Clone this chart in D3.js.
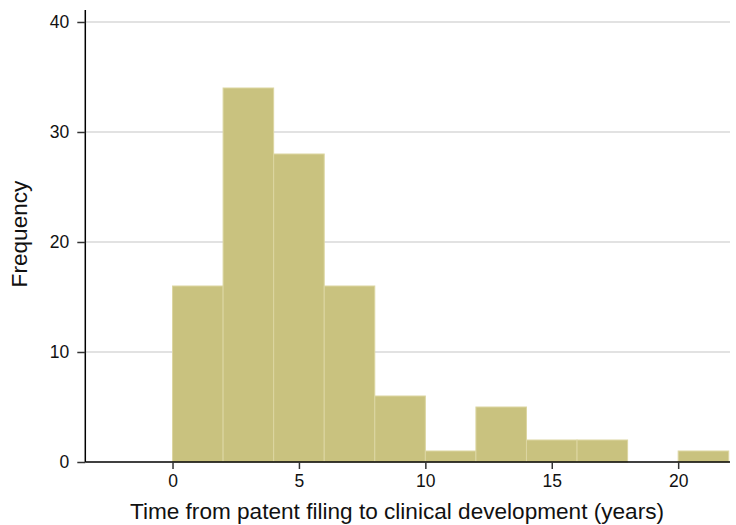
<!DOCTYPE html>
<html><head><meta charset="utf-8">
<script src="https://cdn.jsdelivr.net/npm/d3@7"></script>
<style>body{margin:0;background:#fff}svg{display:block}</style>
</head><body>
<svg id="c" width="736" height="525"></svg>
<script>
const binStarts = [0, 2, 4, 6, 8, 10, 12, 14, 16, 18, 20];
const binWidth = 2;
const frequencies = [16, 34, 28, 16, 6, 1, 5, 2, 2, 0, 1];
const xTicks = [0, 5, 10, 15, 20];
const yTicks = [0, 10, 20, 30, 40];
const xLabel = "Time from patent filing to clinical development (years)";
const yLabel = "Frequency";

(function () {
const svg = d3.select("#c");
const mLeft = 85.3, mRight = 730, mTop = 10, mBottom = 462;
const x = d3.scaleLinear().domain([-3.45, 22.05]).range([mLeft, mRight]);
const y = d3.scaleLinear().domain([0, 41.09]).range([mBottom, mTop]);
const font = "'Liberation Sans', Arial, Helvetica, sans-serif";

// grid
svg.append("g").selectAll("line").data(yTicks.filter(d => d > 0)).join("line")
  .attr("x1", mLeft).attr("x2", mRight)
  .attr("y1", d => y(d)).attr("y2", d => y(d))
  .attr("stroke", "#d8d8d8").attr("stroke-width", 1.5);

// bars
const data = binStarts.map((s, i) => ({s, v: frequencies[i]})).filter(d => d.v > 0);
svg.append("g").selectAll("rect").data(data).join("rect")
  .attr("x", d => x(d.s)).attr("width", d => x(d.s + binWidth) - x(d.s))
  .attr("y", d => y(d.v)).attr("height", d => y(0) - y(d.v))
  .attr("fill", "#c9c27f").attr("stroke", "#dcd6a2").attr("stroke-width", 1);

// y axis
const ya = svg.append("g").attr("transform", `translate(${mLeft},0)`)
  .call(d3.axisLeft(y).tickValues(yTicks).tickSize(8).tickPadding(8));
ya.select(".domain").attr("d", `M0,${mTop}V${mBottom}`).attr("stroke", "#000").attr("stroke-width", 1.5);
ya.selectAll(".tick line").attr("stroke", "#333").attr("stroke-width", 1.5);
ya.selectAll("text").attr("font-family", font).attr("font-size", 17.5).attr("fill", "#111");

// x axis
const xa = svg.append("g").attr("transform", `translate(0,${mBottom})`)
  .call(d3.axisBottom(x).tickValues(xTicks).tickSize(7).tickPadding(6));
xa.select(".domain").attr("d", `M${mLeft},0H${mRight}`).attr("stroke", "#000").attr("stroke-width", 1.5);
xa.selectAll(".tick line").attr("stroke", "#333").attr("stroke-width", 1.5);
xa.selectAll("text").attr("font-family", font).attr("font-size", 17.5).attr("fill", "#111");

// titles
svg.append("text").attr("x", 397).attr("y", 519)
  .attr("text-anchor", "middle").attr("font-family", font).attr("font-size", 22.6).attr("fill", "#111")
  .text(xLabel);
svg.append("text").attr("transform", `translate(27,234) rotate(-90)`)
  .attr("text-anchor", "middle").attr("font-family", font).attr("font-size", 22.6).attr("fill", "#111")
  .text(yLabel);
})();
</script>
</body></html>
